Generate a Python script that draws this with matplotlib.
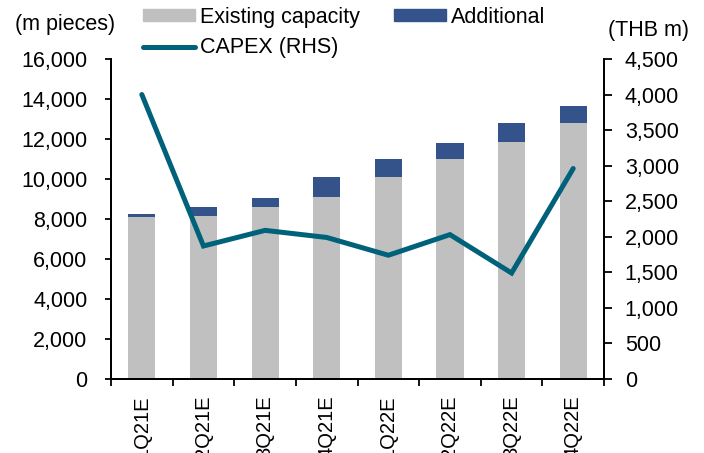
import matplotlib

matplotlib.use("Agg")
import matplotlib.pyplot as plt
from matplotlib.patches import Patch
from matplotlib.lines import Line2D
from matplotlib.ticker import FuncFormatter
import numpy as np

quarters = ["1Q21E", "2Q21E", "3Q21E", "4Q21E", "1Q22E", "2Q22E", "3Q22E", "4Q22E"]
existing = [8100, 8150, 8600, 9100, 10100, 11000, 11850, 12800]
additional = [150, 450, 450, 1000, 900, 800, 950, 850]
capex = [4000, 1870, 2090, 1990, 1740, 2030, 1490, 2960]

GREY = "#C0C0C0"
BLUE = "#34538A"
TEAL = "#00627A"

plt.rcParams["font.family"] = ["Liberation Sans", "DejaVu Sans"]
plt.rcParams["font.size"] = 15.5

fig = plt.figure(figsize=(7.04, 4.53), dpi=100)
ax = fig.add_axes([0.1577, 0.1634, 0.858 - 0.1577, 0.8698 - 0.1634])
ax2 = ax.twinx()

x = np.arange(len(quarters))
ax.bar(x, existing, width=0.44, color=GREY, zorder=2)
ax.bar(x, additional, width=0.44, bottom=existing, color=BLUE, zorder=2)
ax2.plot(x, capex, color=TEAL, lw=3.6, solid_capstyle="round", solid_joinstyle="miter")

ax.set_xlim(-0.5, len(quarters) - 0.5)
ax.set_ylim(0, 16000)
ax.set_yticks(np.arange(0, 16001, 2000))
ax2.set_ylim(0, 4500)
ax2.set_yticks(np.arange(0, 4501, 500))
fmt = FuncFormatter(lambda v, p: f"{v:,.0f}")
ax.yaxis.set_major_formatter(fmt)
ax2.yaxis.set_major_formatter(fmt)

ax.set_xticks(x)
ax.set_xticklabels(quarters, rotation=90, va="top", fontsize=14.5)
ax.tick_params(axis="x", which="major", length=0, pad=12)
ax.set_xticks(np.arange(-0.5, len(quarters)), minor=True)
ax.tick_params(axis="x", which="minor", length=5, width=1.3, direction="out")
ax.tick_params(axis="y", length=4, width=1.3, direction="out", pad=13)
ax2.tick_params(axis="y", length=6, width=1.3, direction="out", pad=9)

for a in (ax, ax2):
    a.spines["top"].set_visible(False)
    for s in ("left", "right", "bottom"):
        a.spines[s].set_linewidth(1.3)

fig.text(0.021, 0.945, "(m pieces)", ha="left", va="center")
fig.text(0.978, 0.933, "(THB m)", ha="right", va="center")

# column-wise fill: Existing / CAPEX in col 1, Additional in col 2
handles = [
    Patch(color=GREY, label="Existing capacity"),
    Line2D([0], [0], color=TEAL, lw=3.6, solid_capstyle="round", label="CAPEX (RHS)"),
    Patch(color=BLUE, label="Additional"),
]
fig.legend(
    handles=handles,
    ncol=2,
    loc="upper left",
    bbox_to_anchor=(0.203, 0.985),
    frameon=False,
    borderpad=0,
    borderaxespad=0,
    handlelength=2.4,
    handleheight=0.5,
    handletextpad=0.25,
    columnspacing=1.6,
    labelspacing=0.45,
)

fig.savefig("out.png", dpi=100)
